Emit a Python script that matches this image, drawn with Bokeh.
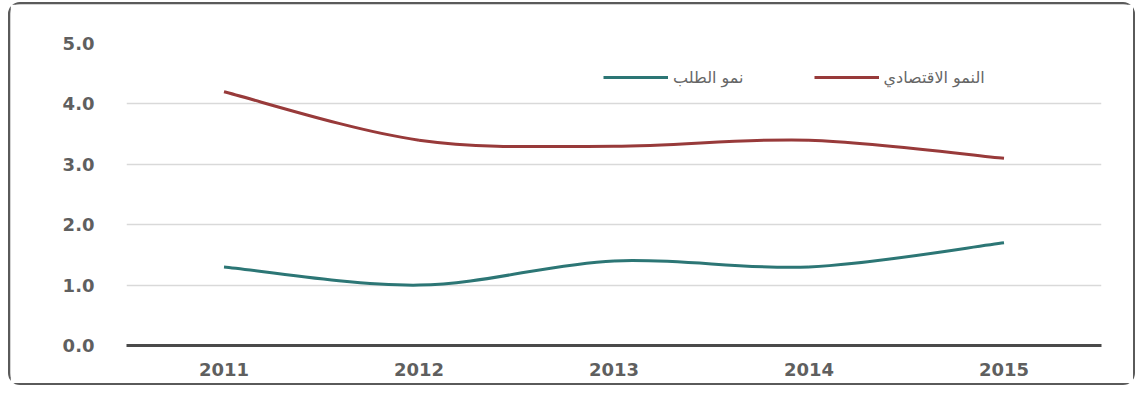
from bokeh.plotting import figure
from bokeh.models import FixedTicker, NumeralTickFormatter, Legend, LegendItem, Range1d, ColumnDataSource
from bokeh.embed import file_html
from bokeh.resources import INLINE

years = ["2011", "2012", "2013", "2014", "2015"]
economic_growth = [4.2, 3.4, 3.3, 3.4, 3.1]
demand_growth = [1.3, 1.0, 1.4, 1.3, 1.7]
label_econ = "النمو الاقتصادي"
label_demand = "نمو الطلب"
y_ticks = [0, 1, 2, 3, 4, 5]

RED = "#983a3a"
TEAL = "#2c7675"

p = figure(width=1127, height=383, output_backend="svg", toolbar_location=None,
           x_range=Range1d(-0.5, 4.5), y_range=Range1d(0, 5),
           min_border_left=116, min_border_right=36, min_border_top=39, min_border_bottom=42)
p.styles = {"border": "2px solid #5a5a5a", "border-radius": "12px",
            "box-shadow": "inset 3px 3px 4px #bbbbbb", "margin-top": "2px", "margin-left": "8px"}
p.outline_line_color = None
p.background_fill_color = "white"
p.border_fill_color = "white"

def smooth_source(vals):
    n = len(vals)
    xs = list(range(n))
    P = [(xs[i], vals[i]) for i in range(n)]
    d = dict(x0=[], y0=[], x1=[], y1=[], cx0=[], cy0=[], cx1=[], cy1=[])
    for i in range(n - 1):
        pm = P[i - 1] if i > 0 else P[i]
        p0 = P[i]
        p1 = P[i + 1]
        p2 = P[i + 2] if i + 2 < n else P[i + 1]
        d["x0"].append(p0[0]); d["y0"].append(p0[1])
        d["x1"].append(p1[0]); d["y1"].append(p1[1])
        d["cx0"].append(p0[0] + (p1[0] - pm[0]) / 6); d["cy0"].append(p0[1] + (p1[1] - pm[1]) / 6)
        d["cx1"].append(p1[0] - (p2[0] - p0[0]) / 6); d["cy1"].append(p1[1] - (p2[1] - p0[1]) / 6)
    return ColumnDataSource(d)

r_econ = p.bezier(x0="x0", y0="y0", x1="x1", y1="y1", cx0="cx0", cy0="cy0", cx1="cx1", cy1="cy1",
                  source=smooth_source(economic_growth), line_color=RED, line_width=3)
r_dem = p.bezier(x0="x0", y0="y0", x1="x1", y1="y1", cx0="cx0", cy0="cy0", cx1="cx1", cy1="cy1",
                 source=smooth_source(demand_growth), line_color=TEAL, line_width=3)

# axes
p.xaxis.ticker = FixedTicker(ticks=list(range(len(years))))
p.xaxis.major_label_overrides = {i: y for i, y in enumerate(years)}
p.xaxis.axis_line_color = "#4a4a4a"
p.xaxis.axis_line_width = 3
p.xaxis.major_tick_line_color = None
p.xaxis.minor_tick_line_color = None
p.xaxis.major_label_standoff = 11
p.xaxis.major_label_text_font = "DejaVu Sans"
p.xaxis.major_label_text_font_style = "bold"
p.xaxis.major_label_text_font_size = "18px"
p.xaxis.major_label_text_color = "#5f5f5f"

p.yaxis.ticker = FixedTicker(ticks=y_ticks)
p.yaxis.formatter = NumeralTickFormatter(format="0.0")
p.yaxis.axis_line_color = None
p.yaxis.major_tick_line_color = None
p.yaxis.minor_tick_line_color = None
p.yaxis.major_label_standoff = 26
p.yaxis.major_label_text_font = "DejaVu Sans"
p.yaxis.major_label_text_font_style = "bold"
p.yaxis.major_label_text_font_size = "18px"
p.yaxis.major_label_text_color = "#5f5f5f"

p.xgrid.grid_line_color = None
p.ygrid.grid_line_color = "#d9d9d9"
p.ygrid.grid_line_width = 1.5

legend = Legend(items=[LegendItem(label=label_demand, renderers=[r_dem]),
                       LegendItem(label=label_econ, renderers=[r_econ])],
                orientation="horizontal", location=(477, 258),
                label_text_font="DejaVu Sans", label_text_font_size="16px",
                label_text_color="#666666", glyph_width=65, spacing=70,
                border_line_color=None, background_fill_alpha=0, padding=4, margin=0)
p.add_layout(legend, "center")

open("out.html", "w").write(file_html(p, INLINE))
